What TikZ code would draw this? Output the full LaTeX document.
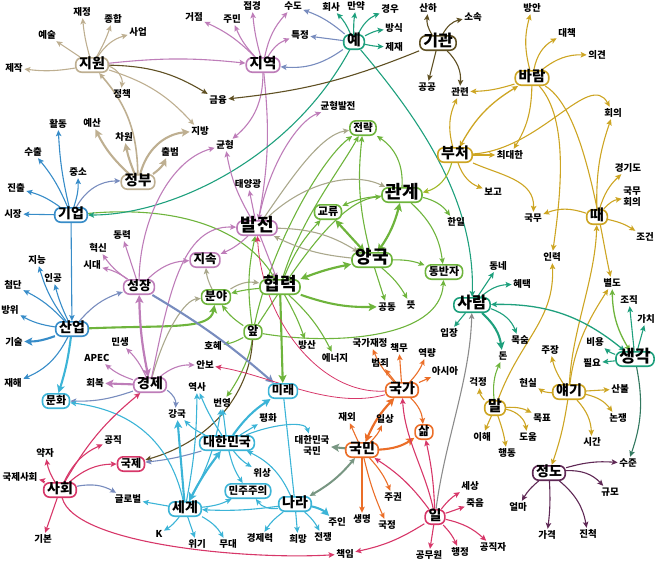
\documentclass[tikz,border=0pt]{standalone}
\usepackage{fontspec}
\setmainfont{Noto Sans CJK KR}
\usetikzlibrary{arrows.meta}
\definecolor{tanc}{RGB}{190,175,145}
\definecolor{olivec}{RGB}{95,80,35}
\definecolor{purc}{RGB}{190,125,185}
\definecolor{tealc}{RGB}{30,160,125}
\definecolor{goldc}{RGB}{205,165,35}
\definecolor{ygc}{RGB}{160,185,40}
\definecolor{greenc}{RGB}{110,180,60}
\definecolor{greyc}{RGB}{170,168,140}
\definecolor{bluec}{RGB}{55,140,200}
\definecolor{slatec}{RGB}{120,140,190}
\definecolor{cyanc}{RGB}{60,180,215}
\definecolor{orangec}{RGB}{235,110,40}
\definecolor{crimc}{RGB}{215,55,105}
\definecolor{dpurc}{RGB}{95,40,85}
\definecolor{ggreyc}{RGB}{120,150,130}
\definecolor{dtealc}{RGB}{50,120,95}
\definecolor{grayc}{RGB}{140,140,140}
\newcommand\myfs[1]{\fontsize{#1pt}{#1pt}\selectfont}
\pgfdeclarelayer{bg}
\pgfsetlayers{bg,main}
\tikzset{
  hub/.style={draw=#1, fill=white, rounded corners=6pt, line width=1.6pt,
    inner xsep=0.34em, inner ysep=0.22em, text height=0.84em, text depth=0.16em},
  hs/.style={font=\myfs{#1}\bfseries},
  lb/.style={inner sep=1.4pt, font=\myfs{9.5}\bfseries, text height=0.8em, text depth=0.12em},
  lbb/.style={inner sep=1.4pt, font=\fontsize{9.5pt}{11pt}\selectfont\bfseries, align=center},
  e/.style={line width=1.1pt, -{Stealth[length=6pt,width=5.5pt,inset=1.3pt]}},
  E/.style={line width=2.1pt, -{Stealth[length=8pt,width=8pt,inset=1.8pt]}},
  ee/.style={line width=1.3pt, {Stealth[length=6pt,width=5.5pt,inset=1.3pt]}-{Stealth[length=6pt,width=5.5pt,inset=1.3pt]}},
  EE/.style={line width=2.2pt, {Stealth[length=8pt,width=8pt,inset=1.8pt]}-{Stealth[length=8pt,width=8pt,inset=1.8pt]}},
  pl/.style={line width=1.1pt}
}
\begin{document}
\begin{tikzpicture}[x=1pt,y=-1pt]
\useasboundingbox (0,0) rectangle (658,562);
% ---------- hubs ----------
\node[hub=tanc,hs=14] (jiwon) at (92,65) {지원};
\node[hub=purc,hs=14.5] (jiyeok) at (263,65) {지역};
\node[hub=tealc,hs=15] (ye) at (354,42) {예};
\node[hub=olivec,hs=16] (gigwan) at (438,43) {기관};
\node[hub=goldc,hs=14.5] (baram) at (532,78) {바람};
\node[hub=goldc,hs=15] (bucheo) at (455,155) {부처};
\node[hub=tanc,hs=14.5] (jeongbu) at (138,182) {정부};
\node[hub=bluec,hs=14] (gieop) at (71,215) {기업};
\node[hub=purc,hs=18] (baljeon) at (257,228) {발전};
\node[hub=greenc,hs=18] (gwangye) at (402,195) {관계};
\node[hub=greenc,hs=11] (gyoryu) at (328,212) {교류};
\node[hub=greenc,hs=10.5] (jeollyak) at (363,128) {전략};
\node[hub=greenc,hs=18] (yangguk) at (372,260) {양국};
\node[hub=greenc,hs=18] (hyeomryeok) at (280,287) {협력};
\node[hub=greenc,hs=11] (dongbanja) at (444,272) {동반자};
\node[hub=purc,hs=12.5] (jisok) at (205,260) {지속};
\node[hub=purc,hs=13] (seongjang) at (139,287) {성장};
\node[hub=greenc,hs=12] (bunya) at (216,297) {분야};
\node[hub=greenc,hs=12] (ap) at (253,332) {앞};
\node[hub=bluec,hs=14] (saneop) at (72,329) {산업};
\node[hub=tealc,hs=16] (saram) at (472,305) {사람};
\node[hub=goldc,hs=15] (ttae) at (597,217) {때};
\node[hub=tealc,hs=17] (saenggak) at (635,359) {생각};
\node[hub=purc,hs=14] (gyeongje) at (150,385) {경제};
\node[hub=cyanc,hs=11] (munhwa) at (56,401) {문화};
\node[hub=cyanc,hs=12] (mirae) at (283,391) {미래};
\node[hub=orangec,hs=14] (gukga) at (402,390) {국가};
\node[hub=orangec,hs=12] (sam) at (424,432) {삶};
\node[hub=goldc,hs=15] (mal) at (495,408) {말};
\node[hub=goldc,hs=14] (yaegi) at (569,392) {얘기};
\node[hub=orangec,hs=14] (gukmin) at (362,450) {국민};
\node[hub=cyanc,hs=13] (daehan) at (227,443) {대한민국};
\node[hub=crimc,hs=11] (gukje) at (131,464) {국제};
\node[hub=crimc,hs=14] (sahoe) at (60,490) {사회};
\node[hub=cyanc,hs=14] (segye) at (185,509) {세계};
\node[hub=cyanc,hs=10.5] (minju) at (248,491) {민주주의};
\node[hub=cyanc,hs=14] (nara) at (295,504) {나라};
\node[hub=crimc,hs=14] (il) at (435,517) {일};
\node[hub=dpurc,hs=14] (jeongdo) at (549,473) {정도};
% ---------- labels ----------
\node[lb] (jaejeong) at (82,12) {재정};
\node[lb] (jonghap) at (113,19) {종합};
\node[lb] (saeop) at (138,32) {사업};
\node[lb] (yesul) at (47,35) {예술};
\node[lb] (jejak) at (14,68) {제작};
\node[lb] (jeongchaek) at (122,94) {정책};
\node[lb] (geumyung) at (218,100) {금융};
\node[lb] (jibang) at (200,131) {지방};
\node[lb] (hwaldong) at (58,124) {활동};
\node[lb] (yesan) at (92,123) {예산};
\node[lb] (chawon) at (124,137) {차원};
\node[lb] (chulbeom) at (170,152) {출범};
\node[lb] (suchul) at (33,152) {수출};
\node[lb] (jungso) at (78,172) {중소};
\node[lb] (jinchul) at (16,188) {진출};
\node[lb] (sijang) at (13,214) {시장};
\node[lb] (geojeom) at (194,17) {거점};
\node[lb] (jumin) at (232,19) {주민};
\node[lb] (jeopgyeong) at (252,6) {접경};
\node[lb] (sudo) at (293,6) {수도};
\node[lb] (teukjeong) at (300,35) {특정};
\node[lb] (gyunhyeong) at (225,145) {균형};
\node[lb] (gyunbal) at (338,106) {균형발전};
\node[lb] (taeyang) at (248,184) {태양광};
\node[lb] (hoesa) at (331,7) {회사};
\node[lb] (manyak) at (356,6) {만약};
\node[lb] (gyeongu) at (390,9) {경우};
\node[lb] (bangsik) at (394,28) {방식};
\node[lb] (jejae) at (394,47) {제재};
\node[lb] (sanha) at (428,8) {산하};
\node[lb] (sosok) at (473,17) {소속};
\node[lb] (gonggong) at (427,87) {공공};
\node[lb] (gwallyeon) at (460,92) {관련};
\node[lb] (bangan) at (532,8) {방안};
\node[lb] (daechaek) at (567,33) {대책};
\node[lb] (uigyeon) at (597,55) {의견};
\node[lb] (hoeui) at (613,113) {회의};
\node[lb] (choedae) at (510,155) {최대한};
\node[lb] (gyeonggi) at (628,168) {경기도};
\node[lb] (bogo) at (493,192) {보고};
\node[lb] (gukmu) at (533,218) {국무};
\node[lbb] (gukmuhoeui) at (632,197) {국무\\회의};
\node[lb] (jogeon) at (645,237) {조건};
\node[lb] (illyeok) at (552,257) {인력};
\node[lb] (byeoldo) at (612,283) {별도};
\node[lb] (hanil) at (456,222) {한일};
\node[lb] (gongdong) at (387,307) {공동};
\node[lb] (tteut) at (411,305) {뜻};
\node[lb] (bangsan) at (307,345) {방산};
\node[lb] (energy) at (335,358) {에너지};
\node[lb] (hohye) at (213,346) {호혜};
\node[lb] (ipjang) at (449,333) {입장};
\node[lb] (dongne) at (498,266) {동네};
\node[lb] (hyetaek) at (522,284) {혜택};
\node[lb] (moksum) at (520,340) {목숨};
\node[lb] (don) at (503,356) {돈};
\node[lb] (jojik) at (629,300) {조직};
\node[lb] (gachi) at (646,319) {가치};
\node[lb] (biyong) at (595,342) {비용};
\node[lb] (pilyo) at (592,363) {필요};
\node[lb] (dongryeok) at (122,235) {동력};
\node[lb] (hyeoksin) at (98,248) {혁신};
\node[lb] (sidae) at (92,265) {시대};
\node[lb] (jineung) at (37,260) {지능};
\node[lb] (ingong) at (53,278) {인공};
\node[lb] (cheomdan) at (13,285) {첨단};
\node[lb] (bangwi) at (10,310) {방위};
\node[lb] (gisul) at (14,342) {기술};
\node[lb] (jaehae) at (13,383) {재해};
\node[lb] (minsaeng) at (120,342) {민생};
\node[lb] (apec) at (97,358) {APEC};
\node[lb] (hoebok) at (95,383) {회복};
\node[lb] (anbo) at (205,365) {안보};
\node[lb] (yeoksa) at (197,387) {역사};
\node[lb] (gangguk) at (177,414) {강국};
\node[lb] (beonyeong) at (222,403) {번영};
\node[lb] (pyeonghwa) at (268,418) {평화};
\node[lbb] (dhgm) at (312,445) {대한민국\\국민};
\node[lb] (wisang) at (262,473) {위상};
\node[lb] (gongjik) at (113,440) {공직};
\node[lb] (yakja) at (45,453) {약자};
\node[lb] (gjsh) at (20,477) {국제사회};
\node[lb] (global) at (128,499) {글로벌};
\node[lb] (gibon) at (43,539) {기본};
\node[lb] (kk) at (159,534) {K};
\node[lb] (wigi) at (197,544) {위기};
\node[lb] (mudae) at (228,544) {무대};
\node[lb] (gjr) at (260,538) {경제력};
\node[lb] (huimang) at (298,539) {희망};
\node[lb] (jeonjaeng) at (323,537) {전쟁};
\node[lb] (juin) at (337,522) {주인};
\node[lb] (chaegim) at (345,554) {책임};
\node[lb] (gkjj) at (370,343) {국가재정};
\node[lb] (chaengmu) at (399,348) {책무};
\node[lb] (beomjoe) at (380,363) {범죄};
\node[lb] (yeongnyang) at (427,353) {역량};
\node[lb] (asia) at (445,371) {아시아};
\node[lb] (jaeoe) at (347,417) {재외};
\node[lb] (ilsang) at (385,419) {일상};
\node[lb] (jugwon) at (393,497) {주권};
\node[lb] (saengmyeong) at (362,519) {생명};
\node[lb] (gukjeong) at (387,525) {국정};
\node[lb] (gongmuwon) at (429,555) {공무원};
\node[lb] (haengjeong) at (460,552) {행정};
\node[lb] (gongjikja) at (493,547) {공직자};
\node[lb] (sesang) at (470,486) {세상};
\node[lb] (jugeum) at (475,503) {죽음};
\node[lb] (jujang) at (550,350) {주장};
\node[lb] (geokjeong) at (478,382) {걱정};
\node[lb] (hyeonsil) at (528,383) {현실};
\node[lb] (sanbul) at (620,389) {산불};
\node[lb] (mokpyo) at (542,418) {목표};
\node[lb] (nonjaeng) at (618,418) {논쟁};
\node[lb] (ihae) at (482,437) {이해};
\node[lb] (doum) at (528,437) {도움};
\node[lb] (sigan) at (592,442) {시간};
\node[lb] (haengdong) at (507,453) {행동};
\node[lb] (sujun) at (628,463) {수준};
\node[lb] (gyumo) at (610,492) {규모};
\node[lb] (eolma) at (518,507) {얼마};
\node[lb] (gagyeok) at (547,535) {가격};
\node[lb] (jincheok) at (588,534) {진척};
% ---------- edges ----------
\begin{pgfonlayer}{bg}
% 지원 / 정부
\draw[e,tanc] (jiwon) to[bend left=5] (jaejeong);
\draw[e,tanc] (jiwon) to[bend right=5] (jonghap);
\draw[e,tanc] (jiwon) to[bend left=20] (saeop);
\draw[e,tanc] (jiwon) -- (yesul);
\draw[e,tanc] (jiwon) to[bend left=8] (jejak);
\draw[e,tanc] (jiwon) to[bend left=40] (jeongchaek);
\draw[e,tanc] (jiwon) to[bend left=15] (jibang);
\draw[e,olivec] (jiwon) to[bend left=15] (geumyung);
\draw[e,purc] (jiwon) to[bend left=6] (jiyeok);
\draw[E,tanc] (jeongbu) to[bend left=10] (yesan);
\draw[E,tanc] (jeongbu) to[bend left=5] (chawon);
\draw[E,tanc] (jeongbu) to[bend right=15] (chulbeom);
\draw[E,tanc] (jeongbu) to[bend left=35] (jibang);
\draw[e,tanc,line width=1.6pt] (jeongbu) to[bend right=20] (jiwon);
% 기업 / 산업
\draw[e,bluec] (gieop) to[bend left=5] (hwaldong);
\draw[e,bluec] (gieop) to[bend right=8] (suchul);
\draw[e,bluec] (gieop) to[bend right=10] (jinchul);
\draw[e,bluec] (gieop) -- (sijang);
\draw[e,bluec] (gieop) to[bend right=10] (jungso);
\draw[e,slatec] (gieop) to[bend left=30] (jeongbu);
\draw[e,bluec] (gieop) -- (saneop);
\draw[e,greenc] (gieop) .. controls (180,205) and (245,230) .. (hyeomryeok);
\draw[e,bluec] (saneop) to[bend left=10] (jineung);
\draw[e,bluec] (saneop) to[bend left=5] (ingong);
\draw[e,bluec] (saneop) to[bend right=10] (cheomdan);
\draw[e,bluec] (saneop) to[bend left=10] (bangwi);
\draw[E,bluec] (saneop) to[bend left=10] (gisul);
\draw[e,bluec] (saneop) to[bend left=20] (jaehae);
\draw[E,cyanc] (saneop) to[bend left=5] (munhwa);
\draw[e,slatec] (saneop) to[bend left=15] (seongjang);
\draw[E,greenc] (saneop) .. controls (170,325) and (210,330) .. (bunya);
% 지역
\draw[e,purc] (jiyeok) to[bend right=10] (geojeom);
\draw[e,purc] (jiyeok) to[bend left=10] (jumin);
\draw[e,purc] (jiyeok) to[bend left=5] (jeopgyeong);
\draw[e,purc] (jiyeok) to[bend left=15] (sudo);
\draw[e,purc] (jiyeok) to[bend left=20] (teukjeong);
\draw[e,purc] (jiyeok) to[bend left=25] (gyunhyeong);
\draw[e,purc] (jiyeok) to[bend left=8] (baljeon);
% 예
\draw[e,tealc] (ye) to[bend right=10] (hoesa);
\draw[e,tealc] (ye) to[bend left=5] (manyak);
\draw[e,tealc] (ye) to[bend left=20] (gyeongu);
\draw[e,tealc] (ye) to[bend left=10] (bangsik);
\draw[e,tealc] (ye) to[bend right=5] (jejae);
\draw[e,slatec] (ye) to[bend right=10] (sudo);
\draw[e,slatec] (ye) -- (teukjeong);
\draw[e,slatec] (ye) to[bend left=20] (jiyeok);
\draw[e,tealc] (ye) .. controls (290,160) and (170,215) .. (gieop);
\draw[e,tealc] (ye) .. controls (420,120) and (475,200) .. (saram);
% 기관
\draw[e,olivec] (gigwan) to[bend left=20] (sanha);
\draw[e,olivec] (gigwan) to[bend left=25] (sosok);
\draw[e,olivec] (gigwan) -- (gonggong);
\draw[e,olivec] (gigwan) to[bend left=25] (gwallyeon);
\draw[e,olivec] (gigwan) to[bend left=8] (geumyung);
% 바람 / 부처 / 때
\draw[e,goldc] (baram) to[bend left=15] (bangan);
\draw[e,goldc] (baram) to[bend left=25] (daechaek);
\draw[e,goldc] (baram) to[bend left=20] (uigyeon);
\draw[e,goldc] (baram) to[bend left=8] (gwallyeon);
\draw[e,goldc] (baram) to[bend left=15] (choedae);
\draw[ee,goldc] (baram) to[bend right=15] (bucheo);
\draw[e,goldc] (baram) .. controls (570,120) and (560,200) .. (illyeok);
\draw[e,goldc] (baram) .. controls (585,110) and (600,230) .. (byeoldo);
\draw[e,goldc] (bucheo) to[bend left=20] (gwallyeon);
\draw[e,goldc] (bucheo) -- (choedae);
\draw[e,goldc] (bucheo) to[bend right=25] (bogo);
\draw[e,goldc] (bucheo) .. controls (500,175) and (535,180) .. (gukmu);
\draw[e,goldc] (bucheo) .. controls (540,150) and (590,70) .. (hoeui);
\draw[e,ygc] (bucheo) to[bend left=30] (gwangye);
\draw[e,goldc] (ttae) to[bend right=20] (gukmu);
\draw[e,goldc] (ttae) to[bend left=15] (gyeonggi);
\draw[e,goldc] (ttae) to[bend left=20] (gukmuhoeui);
\draw[e,goldc] (ttae) to[bend left=10] (jogeon);
\draw[e,goldc] (ttae) to[bend left=10] (hoeui);
% 얘기 / 말
\draw[e,goldc] (yaegi) .. controls (572,330) and (595,280) .. (ttae);
\draw[e,goldc] (yaegi) .. controls (575,340) and (595,310) .. (byeoldo);
\draw[e,goldc] (yaegi) to[bend left=10] (jujang);
\draw[e,goldc] (yaegi) to[bend left=15] (hyeonsil);
\draw[e,goldc] (yaegi) -- (sanbul);
\draw[e,goldc] (yaegi) to[bend left=20] (nonjaeng);
\draw[e,goldc] (yaegi) to[bend left=20] (sigan);
\draw[e,goldc] (yaegi) to[bend left=5] (jeongdo);
\draw[e,goldc] (mal) to[bend left=20] (geokjeong);
\draw[e,goldc] (mal) -- (ihae);
\draw[e,goldc] (mal) to[bend left=5] (haengdong);
\draw[e,goldc] (mal) to[bend left=35] (doum);
\draw[e,goldc] (mal) to[bend left=15] (mokpyo);
\draw[e,greenc] (mal) to[bend left=15] (don);
\draw[e,goldc] (mal) .. controls (520,340) and (555,320) .. (illyeok);
% 사람 / 생각 / 정도
\draw[e,tealc] (saram) -- (dongne);
\draw[e,tealc] (saram) to[bend left=20] (hyetaek);
\draw[e,tealc] (saram) to[bend left=25] (moksum);
\draw[E,tealc] (saram) to[bend left=20] (don);
\draw[e,tealc] (saram) -- (ipjang);
\draw[ee,tealc] (saram) to[bend left=20] (saenggak);
\draw[e,grayc] (il) .. controls (445,440) and (470,380) .. (saram);
\draw[e,tealc] (saenggak) to[bend left=10] (biyong);
\draw[e,tealc] (saenggak) -- (pilyo);
\draw[e,tealc] (saenggak) -- (jojik);
\draw[e,tealc] (saenggak) -- (gachi);
\draw[ee,greenc] (saenggak) to[bend left=15] (byeoldo);
\draw[e,dtealc] (saenggak) to[bend left=15] (sujun);
\draw[e,dpurc] (jeongdo) to[bend left=10] (sujun);
\draw[e,dpurc] (jeongdo) to[bend left=25] (gyumo);
\draw[e,dpurc] (jeongdo) to[bend left=20] (jincheok);
\draw[e,dpurc] (jeongdo) to[bend left=5] (gagyeok);
\draw[e,dpurc] (jeongdo) to[bend right=10] (eolma);
% green cluster
\draw[e,greenc] (gwangye) to[bend right=30] (jeollyak);
\draw[e,greenc] (gwangye) to[bend right=10] (gyoryu);
\draw[e,greenc] (gwangye) to[bend left=20] (hanil);
\draw[e,greenc] (gwangye) to[bend left=20] (dongbanja);
\draw[EE,greenc] (gwangye) to[bend left=10] (yangguk);
\draw[EE,greenc] (gyoryu) -- (yangguk);
\draw[EE,greenc] (hyeomryeok) to[bend left=5] (yangguk);
\draw[e,greenc] (yangguk) to[bend left=10] (dongbanja);
\draw[e,greenc] (yangguk) -- (gongdong);
\draw[e,greenc] (yangguk) to[bend left=10] (tteut);
\draw[e,greenc] (yangguk) to[bend left=10] (jeollyak);
\draw[E,greenc] (hyeomryeok) to[bend right=10] (gongdong);
\draw[e,greenc] (hyeomryeok) to[bend left=5] (bangsan);
\draw[e,greenc] (hyeomryeok) to[bend left=10] (energy);
\draw[E,greenc] (hyeomryeok) -- (mirae);
\draw[e,greenc] (hyeomryeok) to[bend right=5] (bunya);
\draw[e,greyc] (bunya) to[bend left=20] (hyeomryeok);
\draw[e,greenc] (hyeomryeok) .. controls (300,220) and (340,170) .. (jeollyak);
\draw[e,greenc] (hyeomryeok) to[bend left=10] (gyoryu);
\draw[e,greenc] (ap) to[bend left=10] (hohye);
\draw[e,greenc] (ap) .. controls (250,360) and (235,385) .. (beonyeong);
\draw[e,greenc] (ap) to[bend left=10] (bunya);
\draw[e,greenc] (ap) to[bend left=10] (baljeon);
\draw[e,greenc] (ap) .. controls (270,250) and (320,160) .. (jeollyak);
\draw[e,greenc] (ap) .. controls (300,260) and (340,200) .. (gwangye);
\draw[e,greenc] (ap) .. controls (330,345) and (440,340) .. (dongbanja);
\draw[e,olivec] (ap) .. controls (250,390) and (215,440) .. (gukje);
\draw[e,greyc] (bunya) to[bend left=10] (jisok);
\draw[e,greyc] (gyeongje) .. controls (165,330) and (185,300) .. (bunya);
% 발전 / 성장 / 경제
\draw[e,greyc] (baljeon) .. controls (290,180) and (320,135) .. (jeollyak);
\draw[e,greyc] (baljeon) .. controls (300,185) and (350,170) .. (gwangye);
\draw[e,greyc] (baljeon) to[bend left=15] (yangguk);
\draw[e,greyc] (yangguk) to[bend left=10] (baljeon);
\draw[e,purc] (baljeon) -- (taeyang);
\draw[e,purc] (baljeon) .. controls (270,160) and (300,120) .. (gyunbal);
\draw[e,purc] (baljeon) to[bend left=10] (gyunhyeong);
\draw[e,purc] (baljeon) to[bend left=10] (jisok);
\draw[e,purc] (baljeon) -- (hyeomryeok);
\draw[e,purc] (seongjang) -- (dongryeok);
\draw[e,purc] (seongjang) to[bend left=10] (hyeoksin);
\draw[e,purc] (seongjang) to[bend right=10] (sidae);
\draw[e,purc] (seongjang) to[bend left=20] (jisok);
\draw[e,purc] (seongjang) .. controls (140,220) and (170,160) .. (gyunhyeong);
\draw[e,purc] (gyeongje) .. controls (168,300) and (180,225) .. (baljeon);
\draw[EE,purc] (gyeongje) to[bend left=5] (seongjang);
\draw[e,purc] (gyeongje) to[bend right=10] (minsaeng);
\draw[e,purc] (gyeongje) to[bend left=10] (apec);
\draw[E,purc] (gyeongje) -- (hoebok);
\draw[e,purc] (gyeongje) to[bend left=20] (anbo);
\draw[e,slatec] (gyeongje) to[bend left=10] (munhwa);
\draw[e,slatec] (gyeongje) to[bend left=30] (gangguk);
\draw[E,slatec] (seongjang) to[bend left=5] (mirae);
% 대한민국 / 세계 / 나라
\draw[e,cyanc] (daehan) -- (beonyeong);
\draw[e,cyanc] (daehan) to[bend left=5] (yeoksa);
\draw[e,cyanc] (daehan) to[bend left=10] (gangguk);
\draw[E,cyanc] (daehan) to[bend left=10] (mirae);
\draw[e,cyanc] (daehan) -- (pyeonghwa);
\draw[e,cyanc] (daehan) .. controls (270,425) and (305,420) .. (dhgm);
\draw[e,cyanc] (daehan) to[bend right=10] (wisang);
\draw[e,cyanc] (daehan) to[bend right=10] (minju);
\draw[e,slatec] (daehan) to[bend left=5] (gukje);
\draw[E,cyanc] (segye) -- (gangguk);
\draw[e,cyanc] (segye) to[bend right=5] (yeoksa);
\draw[e,cyanc] (segye) to[bend right=10] (beonyeong);
\draw[EE,cyanc] (segye) to[bend left=5] (daehan);
\draw[e,cyanc] (segye) .. controls (170,440) and (130,410) .. (munhwa);
\draw[e,cyanc] (segye) -- (global);
\draw[e,cyanc] (segye) to[bend left=10] (kk);
\draw[e,cyanc] (segye) -- (wigi);
\draw[e,cyanc] (segye) to[bend left=15] (mudae);
\draw[e,cyanc] (segye) to[bend right=10] (minju);
\draw[e,cyanc] (nara) to[bend left=5] (segye);
\draw[e,cyanc] (nara) to[bend right=20] (daehan);
\draw[e,cyanc] (nara) to[bend left=30] (minju);
\draw[E,cyanc] (nara) to[bend left=15] (juin);
\draw[e,cyanc] (nara) to[bend left=10] (jeonjaeng);
\draw[e,cyanc] (nara) -- (huimang);
\draw[e,cyanc] (nara) to[bend right=10] (gjr);
\draw[pl,cyanc] (nara) -- (mirae);
\draw[ee,ggreyc,line width=2pt] (nara) to[bend right=10] (gukmin);
% 국민 / 국가
\draw[E,ggreyc] (gukmin) -- (dhgm);
\draw[e,orangec] (gukmin) -- (jaeoe);
\draw[EE,orangec] (gukmin) to[bend left=10] (gukga);
\draw[e,orangec] (gukmin) to[bend right=10] (ilsang);
\draw[E,orangec] (gukmin) to[bend right=15] (sam);
\draw[e,orangec] (gukmin) to[bend left=10] (jugwon);
\draw[e,orangec] (gukmin) -- (saengmyeong);
\draw[e,orangec] (gukmin) to[bend right=5] (gukjeong);
\draw[e,orangec] (gukga) to[bend left=10] (gkjj);
\draw[e,orangec] (gukga) -- (beomjoe);
\draw[e,orangec] (gukga) -- (chaengmu);
\draw[e,orangec] (gukga) to[bend right=10] (yeongnyang);
\draw[e,orangec] (gukga) -- (asia);
\draw[e,orangec] (gukga) to[bend left=20] (sam);
\draw[e,crimc,line width=0.8pt] (gukga) .. controls (320,395) and (262,320) .. (baljeon);
\draw[e,crimc,line width=0.8pt] (gukga) .. controls (330,410) and (270,375) .. (anbo);
% 사회 / 일
\draw[e,crimc] (sahoe) to[bend left=20] (gongjik);
\draw[e,crimc] (sahoe) to[bend left=10] (yakja);
\draw[e,crimc] (sahoe) to[bend right=10] (gjsh);
\draw[e,crimc] (sahoe) -- (gibon);
\draw[e,crimc] (sahoe) to[bend left=20] (gukje);
\draw[e,slatec] (sahoe) to[bend left=20] (global);
\draw[e,crimc] (sahoe) to[bend left=10] (gyeongje);
\draw[e,crimc] (sahoe) .. controls (75,545) and (250,560) .. (chaegim);
\draw[e,crimc] (il) to[bend left=10] (chaegim);
\draw[e,crimc] (il) to[bend right=10] (gukmin);
\draw[e,crimc] (il) .. controls (425,470) and (405,440) .. (gukga);
\draw[e,crimc] (il) to[bend right=5] (sam);
\draw[e,crimc] (il) to[bend left=10] (sesang);
\draw[e,crimc] (il) -- (jugeum);
\draw[e,crimc] (il) to[bend left=15] (gongjikja);
\draw[e,crimc] (il) to[bend left=10] (haengjeong);
\draw[e,crimc] (il) -- (gongmuwon);
\end{pgfonlayer}
\end{tikzpicture}
\end{document}
